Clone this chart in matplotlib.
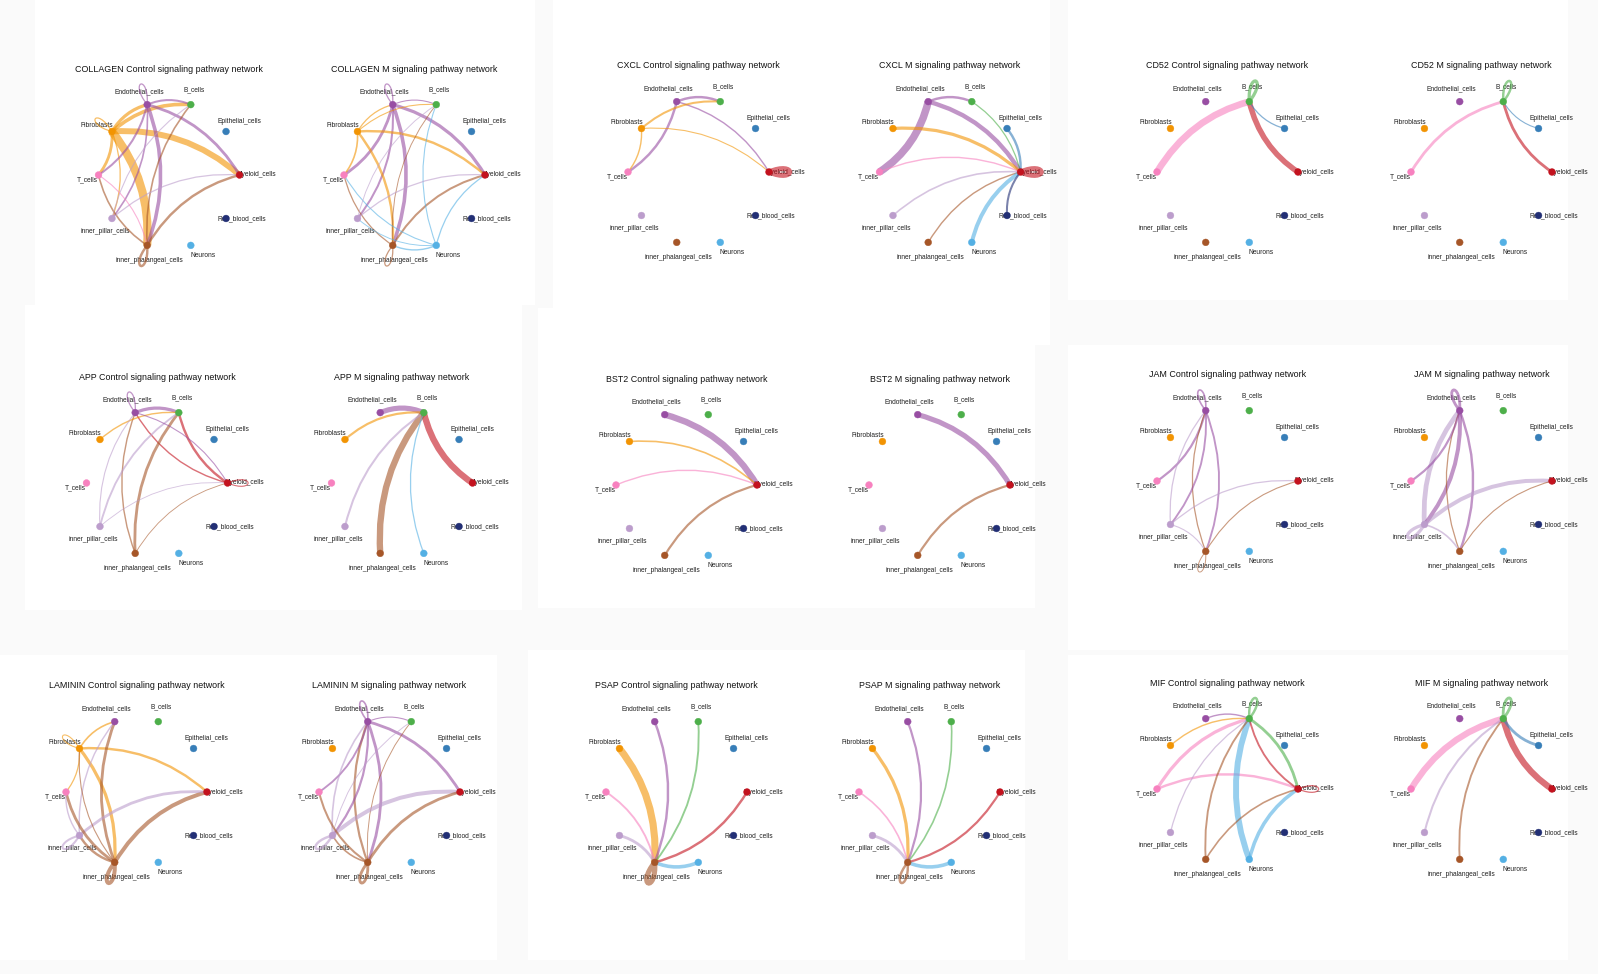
import numpy as np
import matplotlib.pyplot as plt
from matplotlib.patches import Rectangle, PathPatch
from matplotlib.path import Path

plt.rcParams['font.family'] = ['Liberation Sans', 'DejaVu Sans']

# cell groups, in circle order (igraph layout_in_circle, starting at 0 deg)
cells = ["Myeloid_cells", "Epithelial_cells", "B_cells", "Endothelial_cells", "Fibroblasts",
         "T_cells", "inner_pillar_cells", "inner_phalangeal_cells", "Neurons", "Red_blood_cells"]
codes = ["My", "Ep", "B", "En", "Fi", "T", "iPi", "iPh", "Ne", "RBC"]
cell_colors = ["#C3121E", "#377EB8", "#4DAF4A", "#984EA3", "#F29403",
               "#F781BF", "#BC9DCC", "#A65628", "#54B0E4", "#222F75"]

pathways = ["COLLAGEN", "CXCL", "CD52", "APP", "BST2", "JAM", "LAMININ", "PSAP", "MIF"]
conditions = ["Control", "M"]

# edges (source, target, relative strength)
collagen_control = [("Fi", "iPh", 1.0), ("Fi", "My", 0.7), ("Fi", "B", 0.4), ("Fi", "En", 0.35),
                    ("Fi", "T", 0.3), ("Fi", "iPi", 0.1), ("Fi", "Fi", 0.1),
                    ("En", "iPh", 0.4), ("En", "My", 0.3), ("En", "B", 0.2), ("En", "T", 0.2),
                    ("En", "iPi", 0.15), ("En", "En", 0.1),
                    ("iPh", "B", 0.15), ("iPh", "My", 0.25), ("iPh", "T", 0.15), ("iPh", "iPh", 0.25),
                    ("iPi", "My", 0.1), ("iPi", "B", 0.08), ("T", "iPh", 0.08)]
collagen_m = [("En", "iPh", 0.4), ("En", "My", 0.35), ("En", "T", 0.3), ("En", "iPi", 0.2),
              ("En", "B", 0.08), ("En", "En", 0.1),
              ("Fi", "My", 0.25), ("Fi", "iPh", 0.25), ("Fi", "T", 0.15), ("Fi", "En", 0.1), ("Fi", "B", 0.08),
              ("iPh", "My", 0.2), ("iPh", "T", 0.1), ("iPh", "iPh", 0.1), ("iPh", "B", 0.06),
              ("Ne", "My", 0.1), ("Ne", "iPh", 0.12), ("Ne", "T", 0.08), ("Ne", "B", 0.08), ("Ne", "iPi", 0.06),
              ("iPi", "My", 0.1), ("iPi", "B", 0.06)]
cxcl_control = [("En", "B", 0.25), ("En", "T", 0.25), ("En", "My", 0.12), ("Fi", "B", 0.2),
                ("Fi", "T", 0.12), ("Fi", "My", 0.08), ("My", "My", 0.6)]
cxcl_m = [("En", "T", 0.9), ("En", "My", 0.5), ("En", "B", 0.25), ("Fi", "My", 0.35), ("B", "My", 0.1),
          ("Ep", "My", 0.25), ("T", "My", 0.12), ("iPi", "My", 0.15), ("iPh", "My", 0.12),
          ("Ne", "My", 0.45), ("RBC", "My", 0.2), ("My", "My", 0.6)]
cd52_control = [("T", "B", 0.8), ("My", "B", 0.65), ("B", "B", 0.35), ("Ep", "B", 0.1)]
cd52_m = [("T", "B", 0.3), ("My", "B", 0.3), ("B", "B", 0.25), ("Ep", "B", 0.08)]
app_control = [("En", "B", 0.35), ("My", "B", 0.25), ("My", "En", 0.12), ("iPh", "B", 0.3),
               ("iPh", "En", 0.12), ("Fi", "B", 0.12), ("iPi", "B", 0.18), ("iPi", "En", 0.08),
               ("En", "My", 0.08), ("iPi", "My", 0.05), ("iPh", "My", 0.05), ("En", "En", 0.1),
               ("My", "My", 0.08)]
app_m = [("En", "B", 0.6), ("My", "B", 0.75), ("iPh", "B", 0.75), ("Fi", "B", 0.22),
         ("iPi", "B", 0.2), ("Ne", "B", 0.1)]
bst2_control = [("En", "My", 0.75), ("Fi", "My", 0.15), ("T", "My", 0.12), ("iPh", "My", 0.22)]
bst2_m = [("En", "My", 0.6), ("iPh", "My", 0.22)]
jam_control = [("En", "T", 0.22), ("En", "iPh", 0.18), ("iPh", "En", 0.1), ("En", "iPi", 0.18),
               ("iPi", "En", 0.1), ("En", "En", 0.15), ("iPi", "My", 0.1), ("iPh", "My", 0.08),
               ("iPi", "iPh", 0.08), ("iPh", "iPh", 0.06)]
jam_m = [("iPi", "En", 0.55), ("En", "iPi", 0.45), ("En", "iPh", 0.25), ("iPh", "En", 0.1),
         ("En", "T", 0.22), ("iPi", "My", 0.45), ("En", "En", 0.3), ("iPi", "iPi", 0.35),
         ("iPh", "My", 0.08), ("iPi", "iPh", 0.15)]
laminin_control = [("Fi", "iPh", 0.35), ("Fi", "My", 0.25), ("Fi", "En", 0.15), ("Fi", "T", 0.1),
                   ("Fi", "Fi", 0.08), ("iPh", "En", 0.3), ("iPi", "En", 0.12), ("iPh", "My", 0.45),
                   ("iPi", "My", 0.3), ("iPh", "T", 0.3), ("iPh", "iPi", 0.25), ("iPh", "iPh", 0.45),
                   ("iPi", "iPi", 0.2), ("iPi", "T", 0.12), ("iPh", "Fi", 0.08)]
laminin_m = [("En", "My", 0.3), ("En", "iPh", 0.3), ("iPh", "En", 0.22), ("En", "T", 0.18),
             ("En", "iPi", 0.22), ("iPi", "En", 0.15), ("En", "En", 0.15), ("En", "B", 0.08),
             ("iPh", "B", 0.06), ("iPi", "B", 0.06), ("iPi", "My", 0.45), ("iPh", "My", 0.3),
             ("iPh", "T", 0.2), ("iPi", "iPi", 0.25), ("iPh", "iPh", 0.3), ("iPh", "iPi", 0.15)]
psap_control = [("Fi", "iPh", 0.85), ("En", "iPh", 0.25), ("B", "iPh", 0.18), ("My", "iPh", 0.25),
                ("T", "iPh", 0.18), ("iPi", "iPh", 0.3), ("Ne", "iPh", 0.4), ("iPh", "iPh", 0.6)]
psap_m = [("Fi", "iPh", 0.35), ("En", "iPh", 0.22), ("B", "iPh", 0.15), ("My", "iPh", 0.22),
          ("T", "iPh", 0.15), ("iPi", "iPh", 0.3), ("Ne", "iPh", 0.4), ("iPh", "iPh", 0.25)]
mif_control = [("T", "B", 0.35), ("T", "My", 0.25), ("Ne", "B", 0.7), ("Ne", "My", 0.4),
               ("B", "My", 0.3), ("My", "B", 0.18), ("iPh", "B", 0.18), ("iPh", "My", 0.15),
               ("En", "B", 0.12), ("Fi", "B", 0.12), ("iPi", "B", 0.1), ("B", "B", 0.25),
               ("My", "My", 0.1)]
mif_m = [("T", "B", 0.75), ("My", "B", 0.75), ("Ep", "B", 0.3), ("iPh", "B", 0.18),
         ("iPi", "B", 0.2), ("B", "B", 0.3)]

edges = {
    "COLLAGEN": (collagen_control, collagen_m), "CXCL": (cxcl_control, cxcl_m),
    "CD52": (cd52_control, cd52_m), "APP": (app_control, app_m), "BST2": (bst2_control, bst2_m),
    "JAM": (jam_control, jam_m), "LAMININ": (laminin_control, laminin_m),
    "PSAP": (psap_control, psap_m), "MIF": (mif_control, mif_m),
}

# ---- layout (pixels) ----
W, H = 1598, 974
panel_centers = {
    "COLLAGEN": [(169, 175), (414.5, 175)], "CXCL": [(698.5, 172), (950, 172)],
    "CD52": [(1227.5, 172), (1481.5, 172)], "APP": [(157, 483), (402, 483)],
    "BST2": [(686.5, 485), (939.5, 485)], "JAM": [(1227.5, 481), (1481.5, 481)],
    "LAMININ": [(136.5, 792), (389.5, 792)], "PSAP": [(676.5, 792), (929.5, 792)],
    "MIF": [(1227.5, 789), (1481.5, 789)],
}
white_boxes = [(35, 0, 500, 305), (553, 0, 497, 345), (1068, 0, 500, 300),
               (25, 305, 497, 305), (538, 308, 497, 300), (1068, 345, 500, 305),
               (0, 655, 497, 305), (528, 650, 497, 310), (1068, 655, 500, 305)]
RX, RY, LIM = 70.5, 74.0, 1.6

# label offsets in points and alignment for each node
label_pos = {"My": ((-2.2, 0), "left"), "Ep": ((9.4, 7.2), "center"), "B": ((2.2, 10.8), "center"),
             "En": ((-5.8, 9.4), "center"), "Fi": ((-10.8, 4.3), "center"), "T": ((-7.9, -3.6), "center"),
             "iPi": ((-5.0, -9.4), "center"), "iPh": ((1.4, -10.8), "center"),
             "Ne": ((8.6, -7.2), "center"), "RBC": ((-6.5, 0), "left")}

ang = np.deg2rad(np.arange(len(cells)) * 36.0)
pos = {c: np.array([np.cos(a), np.sin(a)]) for c, a in zip(codes, ang)}
angle_of = dict(zip(codes, ang))
color_of = dict(zip(codes, cell_colors))


def width(w):
    return 0.35 + 5.6 * w


def draw_edge(ax, s, t, w):
    p0, p1 = pos[s], pos[t]
    d = p1 - p0
    L = np.hypot(*d)
    perp = np.array([-d[1], d[0]]) / L
    ctrl = (p0 + p1) / 2 + 0.2 * L * perp
    path = Path([p0, ctrl, p1], [Path.MOVETO, Path.CURVE3, Path.CURVE3])
    ax.add_patch(PathPatch(path, fill=False, lw=width(w), edgecolor=color_of[s],
                           alpha=0.6, capstyle='butt', zorder=3))


def draw_loop(ax, s, w):
    p = pos[s]
    a = angle_of[s]
    d = 0.42
    c1 = p + d * np.array([np.cos(a + 0.38), np.sin(a + 0.38)])
    c2 = p + d * np.array([np.cos(a - 0.38), np.sin(a - 0.38)])
    path = Path([p, c1, c2, p], [Path.MOVETO, Path.CURVE4, Path.CURVE4, Path.CURVE4])
    ax.add_patch(PathPatch(path, fill=False, lw=width(w), edgecolor=color_of[s],
                           alpha=0.6, zorder=3))


fig = plt.figure(figsize=(W / 100, H / 100), dpi=100, facecolor="#fafafa")
for (x, y, w, h) in white_boxes:
    fig.add_artist(Rectangle((x / W, 1 - (y + h) / H), w / W, h / H,
                             transform=fig.transFigure, facecolor="white",
                             edgecolor="none", zorder=0))

for pw in pathways:
    for k, cond in enumerate(conditions):
        cx, cy = panel_centers[pw][k]
        wpx, hpx = 2 * LIM * RX, 2 * LIM * RY
        ax = fig.add_axes([(cx - wpx / 2) / W, (H - cy - hpx / 2) / H, wpx / W, hpx / H])
        ax.set_xlim(-LIM, LIM)
        ax.set_ylim(-LIM, LIM)
        ax.axis('off')

        for s, t, w in edges[pw][k]:
            if s == t:
                draw_loop(ax, s, w)
            else:
                draw_edge(ax, s, t, w)

        xs = [pos[c][0] for c in codes]
        ys = [pos[c][1] for c in codes]
        ax.scatter(xs, ys, s=24, c=cell_colors, edgecolors=cell_colors, linewidths=0.3, zorder=4)
        for c, name in zip(codes, cells):
            off, ha = label_pos[c]
            ax.annotate(name, pos[c], xytext=off, textcoords='offset points', ha=ha,
                        va='center', fontsize=4.8, color="#222222", zorder=2,
                        annotation_clip=False)
        ax.text(0, 106 / RY, f"{pw} {cond} signaling pathway network", ha='center',
                va='center', fontsize=6.4, color="#111111")

fig.savefig("out.png", dpi=100, facecolor=fig.get_facecolor())
